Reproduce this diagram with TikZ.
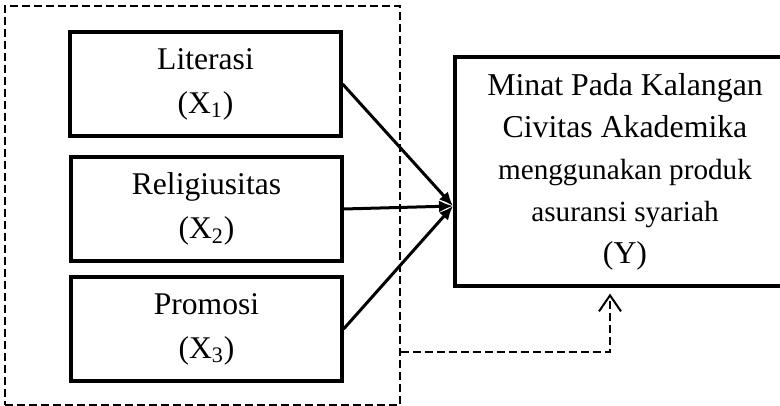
\documentclass[tikz,border=0pt]{standalone}
\usepackage{fontspec}
\setmainfont{Liberation Serif}
\usetikzlibrary{arrows.meta}

\begin{document}
\begin{tikzpicture}
    [
    x=0.5pt, y=-0.5pt,
    variabel/.style={rectangle,draw,line width=1.6pt,inner sep=0pt,align=center,minimum width=135.5pt,minimum height=52pt,font=\fontsize{15.8}{22}\selectfont},
    terikat/.style={rectangle,draw,line width=1.6pt,inner sep=0pt,align=center,minimum width=170pt,minimum height=114.5pt,font=\fontsize{15.9}{21}\selectfont},
    grup/.style={rectangle,draw,line width=1pt,dash pattern=on 4pt off 2pt,inner sep=0pt,minimum width=197.5pt,minimum height=199.5pt},
    pengaruh/.style={line width=1.5pt,-{Latex[length=7pt,width=6pt]}},
    simultan/.style={line width=1pt,dash pattern=on 4pt off 2pt,shorten >=3pt,-{Straight Barb[length=8pt,width=11pt,line width=1pt]}}
    ]
    \useasboundingbox (0,0) rectangle (780,406);
    \node (grup) at (202.5,205.5) [grup] {};
    \node (lit) at (205.5,84) [variabel] {Literasi\\(X\textsubscript{1})};
    \node (rel) at (206.5,209) [variabel] {Religiusitas\\(X\textsubscript{2})};
    \node (pro) at (206.5,329) [variabel] {Promosi\\(X\textsubscript{3})};
    \node (minat) at (625,171.5) [terikat] {Minat Pada Kalangan\\Civitas Akademika\\{\fontsize{14.6}{21}\selectfont menggunakan produk}\\{\fontsize{14.6}{21}\selectfont asuransi syariah}\\(Y)};
    \coordinate (temu) at (453,206);
    \coordinate (siku) at (610,352);
    \draw [pengaruh] (lit.east) to (temu);
    \draw [pengaruh] (rel.east) to (temu);
    \draw [pengaruh] (pro.east) to (temu);
    \draw [simultan] (grup.east |- siku) -- (siku) -- (minat.south -| siku);
  \end{tikzpicture}
\end{document}
